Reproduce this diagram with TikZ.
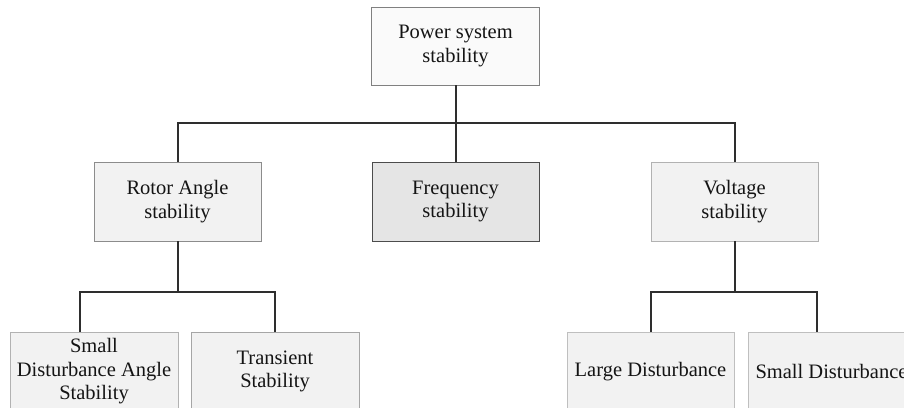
\documentclass[tikz,border=0pt]{standalone}
\usepackage{fontspec}
\setmainfont{Liberation Serif}
\begin{document}
\begin{tikzpicture}[x=1pt,y=-1pt,
  box/.style={draw=#1, line width=0.9pt, minimum width=167pt, minimum height=79pt,
    align=center, inner sep=0pt, font=\fontsize{20.5}{23.5}\selectfont, text=black!92},
  box/.default={black!45},
  conn/.style={draw=black!82, line width=2pt}]
\useasboundingbox (0,0) rectangle (904,407);
\clip (0,0) rectangle (904,407);
\fill[white] (0,0) rectangle (904,407);
\node[box={black!50}, fill=black!2, minimum width=168pt, minimum height=78pt] (top) at (455.5,46) {Power system\\stability};
\node[box={black!45}, fill=black!5] (rotor) at (177.5,201.5) {Rotor Angle\\stability};
\node[box={black!70}, fill=black!10] (freq) at (455.5,201.5) {Frequency\\stability};
\node[box={black!30}, fill=black!5] (volt) at (734.5,201.5) {Voltage\\stability};
\node[box={black!30}, fill=black!5, minimum width=168pt] (sda) at (94,371.5) {Small\\Disturbance Angle\\Stability};
\node[box={black!35}, fill=black!5, minimum width=168pt] (trans) at (275,371.5) {Transient\\Stability};
\node[box={black!25}, fill=black!5] (large) at (650.5,371.5) {Large Disturbance};
\node[box={black!25}, fill=black!5] (small) at (831.5,371.5) {Small Disturbance};
\coordinate (sdain) at (80,332);
\coordinate (smallin) at (817,332);
\draw[conn] (top.south) -- (freq.north);
\draw[conn] (rotor.north) -- ++(0,-39) -| (volt.north);
\draw[conn] (rotor.south) -- ++(0,51);
\draw[conn] (sdain) -- ++(0,-40) -| (trans.north);
\draw[conn] (volt.south) -- ++(0,51);
\draw[conn] (large.north) -- ++(0,-40) -| (smallin);
\end{tikzpicture}
\end{document}
